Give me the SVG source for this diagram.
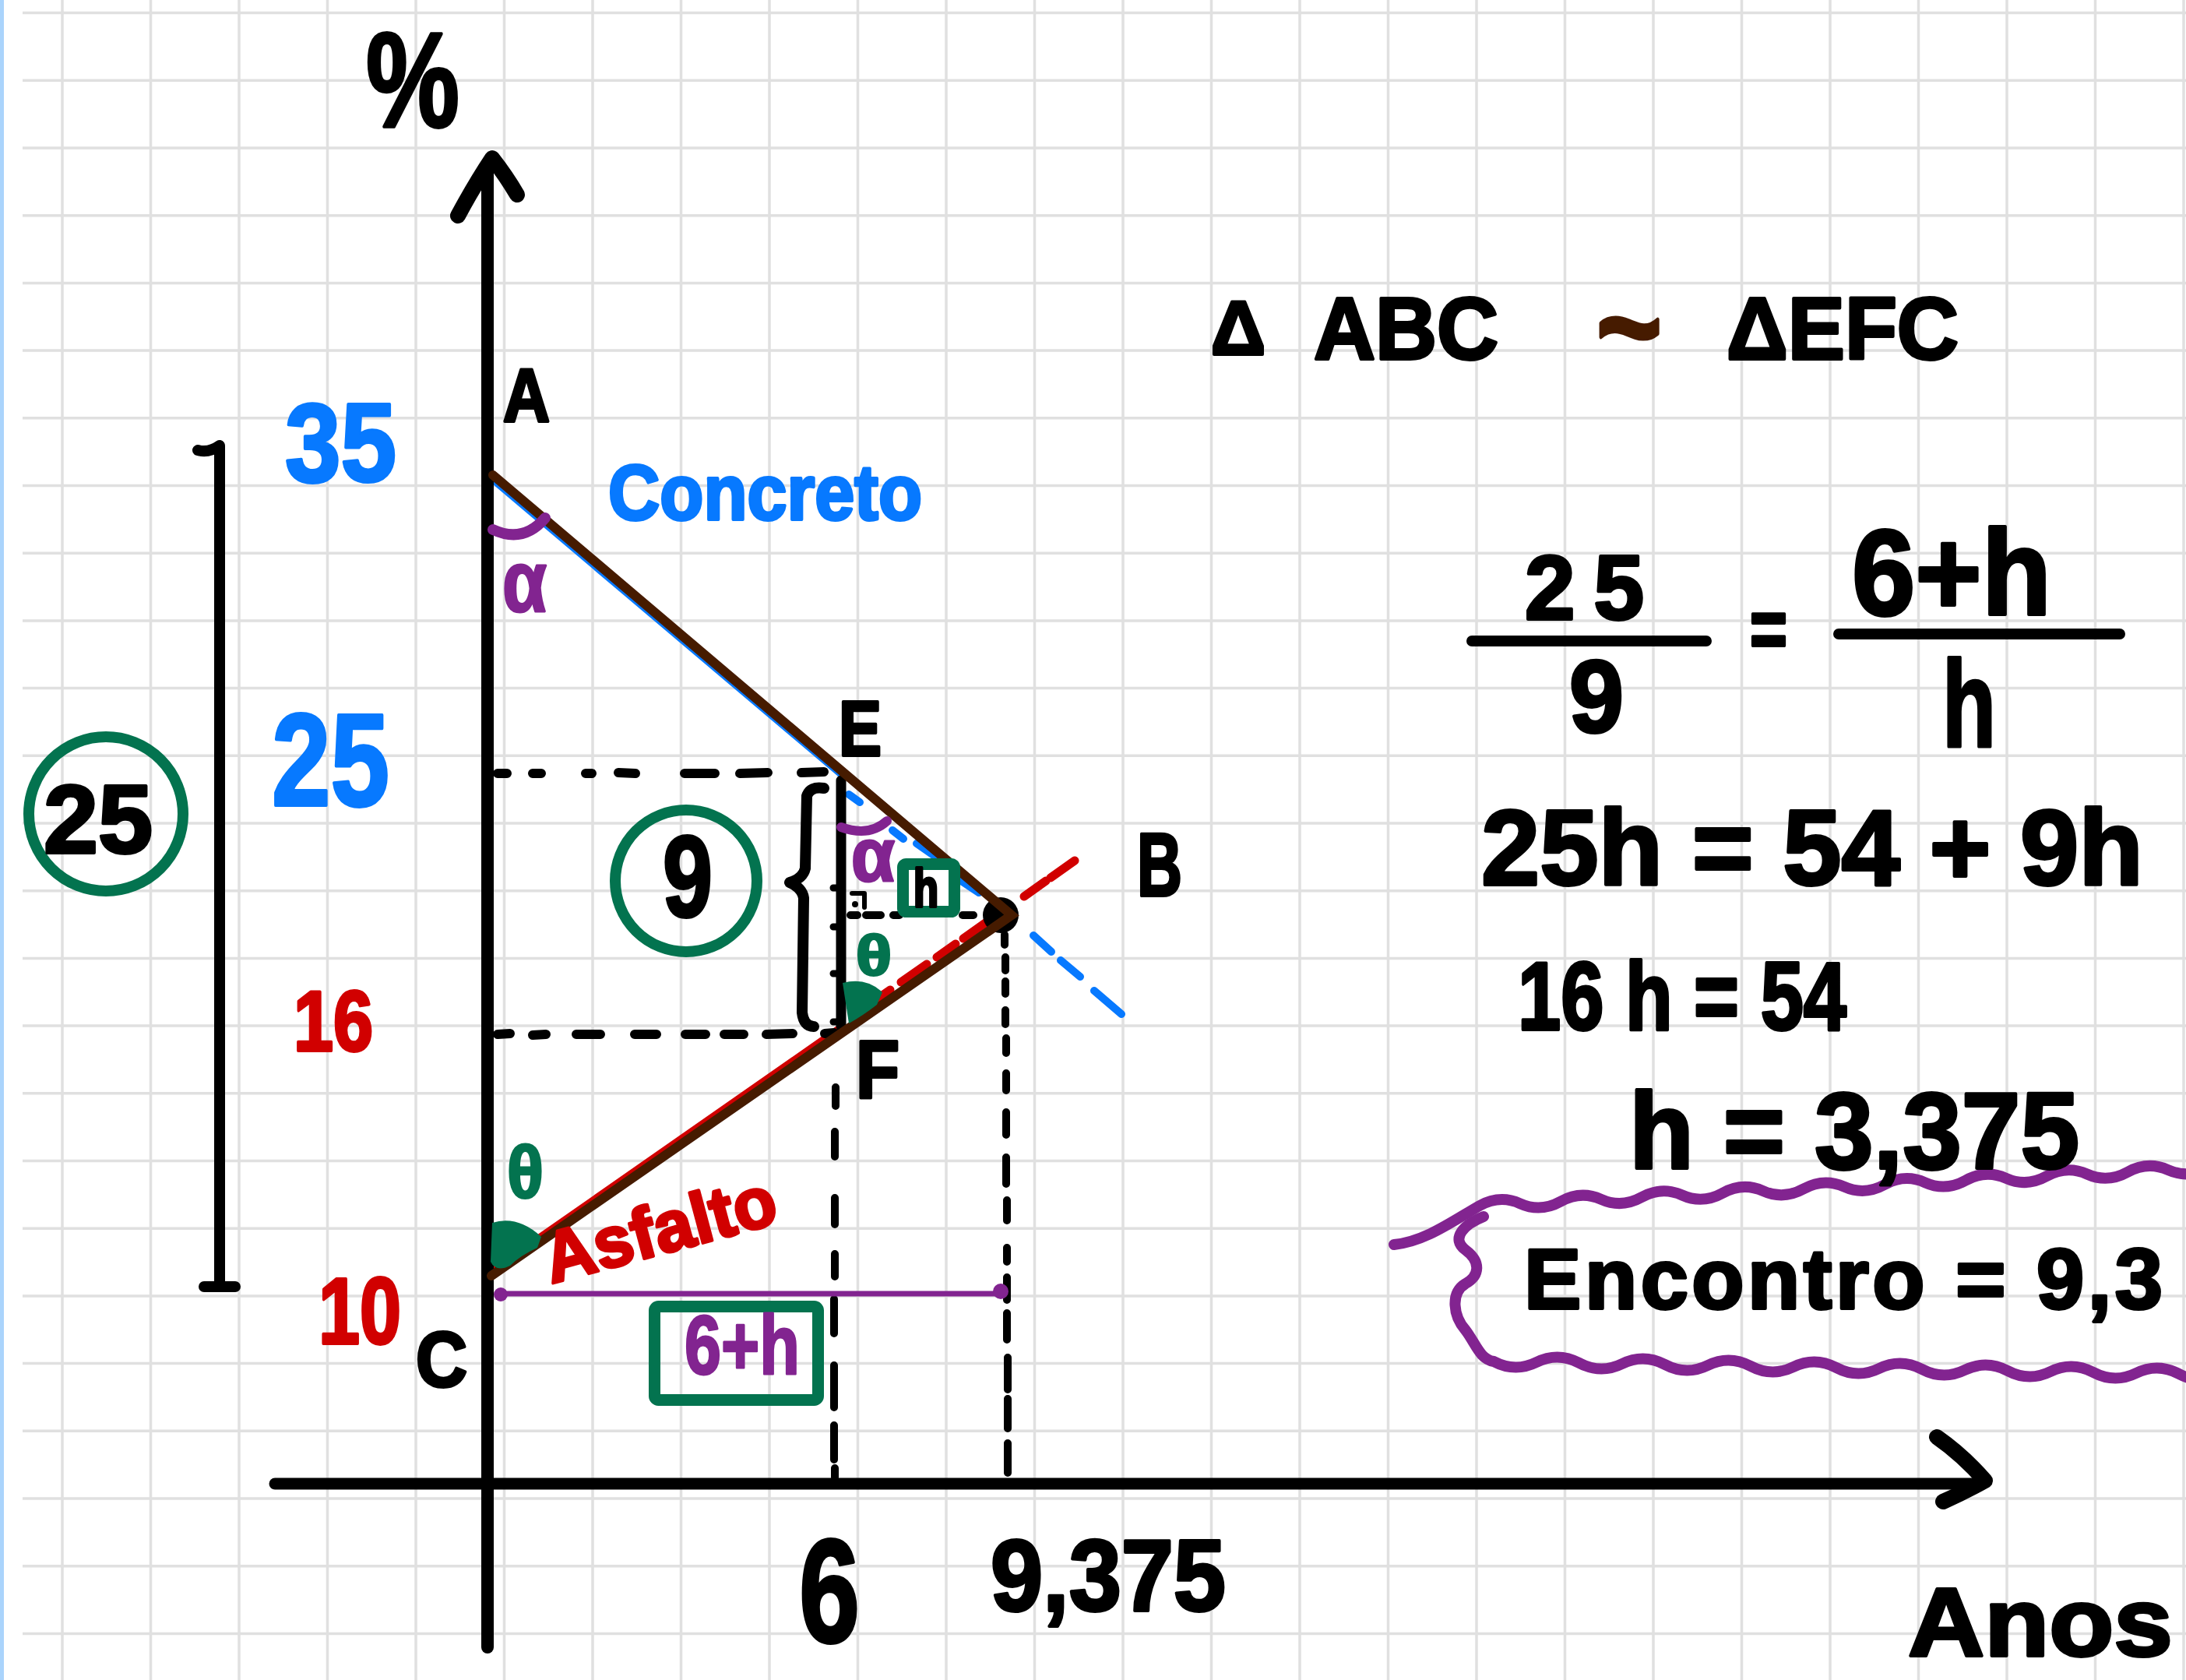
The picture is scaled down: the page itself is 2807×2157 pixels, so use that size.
<svg xmlns="http://www.w3.org/2000/svg" width="2807" height="2157" viewBox="0 0 2807 2157">
<style>
.t{font-family:"Liberation Sans",Arial,sans-serif;font-weight:bold;stroke-linejoin:round;stroke-linecap:round;paint-order:stroke}
.k{fill:#000;stroke:#000;stroke-width:4}
.bl{fill:#0779ff;stroke:#0779ff;stroke-width:4}
.rd{fill:#d10000;stroke:#d10000;stroke-width:4}
.pu{fill:#822490;stroke:#822490;stroke-width:3}
.gr{fill:#03734f;stroke:#03734f;stroke-width:3}
.br{fill:#461b00;stroke:#461b00;stroke-width:5}
.ln{fill:none;stroke-linecap:round;stroke-linejoin:round}
</style>
<rect width="2807" height="2157" fill="#ffffff"/>
<g id="grid" fill="none" stroke="#e0e0e0" stroke-width="3.5">
<path d="M80 0V2157M193.5 0V2157M307 0V2157M420.5 0V2157M534 0V2157M647.5 0V2157M761 0V2157M874.5 0V2157M988 0V2157M1101.5 0V2157M1215 0V2157M1328.5 0V2157M1442 0V2157M1555.5 0V2157M1669 0V2157M1782.5 0V2157M1896 0V2157M2009.5 0V2157M2123 0V2157M2236.5 0V2157M2350 0V2157M2463.5 0V2157M2577 0V2157M2690.5 0V2157M2804 0V2157"/>
<path d="M29 16.6H2807M29 103.3H2807M29 190H2807M29 276.7H2807M29 363.4H2807M29 450.1H2807M29 536.8H2807M29 623.5H2807M29 710.2H2807M29 796.9H2807M29 883.6H2807M29 970.3H2807M29 1057H2807M29 1143.7H2807M29 1230.4H2807M29 1317.1H2807M29 1403.8H2807M29 1490.5H2807M29 1577.2H2807M29 1663.9H2807M29 1750.6H2807M29 1837.3H2807M29 1924H2807M29 2010.7H2807M29 2097.4H2807"/>
</g>
<rect id="margin" x="0" y="0" width="5" height="2157" fill="#aad4fc"/>

<g id="connectors">
<path class="ln" stroke="#0779ff" stroke-width="12" d="M634 615L1082 994"/>
<path class="ln" stroke="#0779ff" stroke-width="10" d="M1090 1020L1104 1030M1146 1066L1160 1077M1177 1083L1200 1099M1233 1130L1257 1146M1327 1201L1350 1222M1362 1233L1387 1254M1405 1272L1440 1302"/>
<path class="ln" stroke="#d10000" stroke-width="12" d="M632 1633L1078 1322"/>
<path class="ln" stroke="#d10000" stroke-width="11" d="M1123 1285L1143 1271M1157 1261L1190 1238M1203 1229L1227 1212M1237 1205L1268 1183M1315 1151L1343 1131M1349 1127L1380 1105"/>
<path id="y-axis" class="ln" stroke="#000" stroke-width="16" d="M626 212V2115"/>
<path class="ln" stroke="#000" stroke-width="20" d="M588 277Q610 236 632 203Q650 226 664 250"/>
<path id="x-axis" class="ln" stroke="#000" stroke-width="15" d="M353 1905H2546"/>
<path class="ln" stroke="#000" stroke-width="20" d="M2487 1845Q2520 1868 2549 1901Q2524 1915 2495 1928"/>
<path class="ln" stroke="#000" stroke-width="12" d="M639 993L651 993M684 993L695 993M752 993L760 993M794 992L816 993M879 993L918 993M950 993L986 992M1029 992L1058 991"/>
<path class="ln" stroke="#000" stroke-width="12" d="M639 1328L655 1327M684 1329L701 1328M740 1328L771 1328M815 1328L843 1328M880 1328L906 1328M930 1328L955 1328M984 1328L1018 1327M1059 1327L1071 1326"/>
<path class="ln" stroke="#000" stroke-width="10" d="M1092 1175L1101 1175M1112 1175L1131 1175M1147 1175L1155 1175M1236 1175L1250 1175"/>
<path class="ln" stroke="#000" stroke-width="10" d="M1073 1396L1073 1420M1072 1453L1072 1485M1072 1538L1072 1572M1072 1610L1072 1639M1071 1668L1071 1712M1071 1753L1071 1807M1071 1830L1071 1874M1072 1885L1072 1897"/>
<path class="ln" stroke="#000" stroke-width="10" d="M1290 1200L1290 1213M1291 1229L1291 1246M1291 1260L1291 1276M1291 1297L1291 1315M1292 1333L1292 1352M1292 1378L1292 1400M1292 1428L1292 1457M1292 1486L1292 1520M1293 1541L1293 1567M1293 1602L1293 1620M1293 1640L1293 1669M1293 1686L1293 1720M1294 1743L1294 1784M1294 1796L1294 1834M1294 1853L1294 1891"/>
<path class="ln" stroke="#000" stroke-width="6" d="M1094 1147L1110 1147L1110 1165"/>
<circle cx="1098" cy="1161" r="4" fill="#000"/>
<path class="ln" stroke="#000" stroke-width="13" d="M1080 1002V1318"/>
<path class="ln" stroke="#000" stroke-width="9" d="M1076 1140h-6M1076 1190h-6M1076 1250h-6M1076 1312h-6"/>
<path class="ln" stroke="#000" stroke-width="14" d="M1058 1012Q1040 1009 1036 1022L1034 1115Q1031 1128 1014 1133Q1030 1140 1032 1153L1030 1300Q1032 1318 1045 1318"/>
<path class="ln" stroke="#000" stroke-width="14" d="M254 578Q268 582 282 572V1650M262 1652H302"/>
<path class="ln" stroke="#822490" stroke-width="7" d="M642 1661H1288"/>
<circle cx="643" cy="1662" r="9" fill="#822490"/>
<circle cx="1285" cy="1658" r="10" fill="#822490"/>
<circle cx="1285" cy="1175" r="23" fill="#000"/>
<path id="triangle" fill="none" stroke="#461b00" stroke-width="12" stroke-linecap="round" stroke-linejoin="miter" d="M633 610L1299 1175L631 1638"/>
<path class="ln" stroke="#822490" stroke-width="14" d="M633 680Q672 698 700 665"/>
<path class="ln" stroke="#822490" stroke-width="12" d="M1080 1062Q1116 1075 1139 1054"/>
<path fill="#03734f" d="M632 1570Q665 1560 695 1588L690 1602Q668 1612 655 1625Q637 1634 630 1620Z"/>
<path fill="#03734f" d="M1082 1262Q1112 1254 1133 1274L1126 1290Q1108 1304 1090 1314Z"/>
<path class="ln" stroke="#822490" stroke-width="14" d="M1790 1598C1830 1594 1865 1568 1900 1548Q1926 1533.6 1952 1545.3T2004 1542.6T2056 1539.9T2108 1537.2T2160 1534.5T2212 1531.8T2264 1529.1T2316 1526.4T2368 1523.7T2420 1521T2472 1518.3T2524 1515.6T2576 1512.9T2628 1510.2T2680 1507.5T2732 1504.8T2784 1502.1T2836 1499.4"/>
<path class="ln" stroke="#822490" stroke-width="14" d="M1905 1562C1880 1572 1862 1590 1882 1605C1902 1620 1900 1638 1882 1648C1862 1660 1866 1690 1882 1708C1895 1725 1900 1745 1918 1748Q1945.5 1762.5 1973 1749T2028 1750T2083 1751T2138 1752T2193 1753T2248 1754T2303 1755T2358 1756T2413 1757T2468 1758T2523 1759T2578 1760T2633 1761T2688 1762T2743 1763T2798 1764T2853 1765"/>
<path class="ln" stroke="#000" stroke-width="14" d="M1890 823H2191M2361 814H2722"/>
</g>

<g id="node-circle25"><circle cx="136" cy="1045" r="99" fill="none" stroke="#03734f" stroke-width="14"/><text class="t k" x="56" y="1095" font-size="124" textLength="140" lengthAdjust="spacingAndGlyphs">25</text></g>
<g id="node-circle9"><circle cx="881" cy="1131" r="91" fill="none" stroke="#03734f" stroke-width="14"/><text class="t k" x="851" y="1177" font-size="148" textLength="64" lengthAdjust="spacingAndGlyphs">9</text></g>
<g id="node-boxh"><rect x="1159.5" y="1109.5" width="66" height="61" rx="4" fill="#fff" stroke="#03734f" stroke-width="15"/><text class="t k" x="1173" y="1164" font-size="68" textLength="32" lengthAdjust="spacingAndGlyphs">h</text></g>
<g id="node-box6h"><rect x="840.5" y="1677.5" width="210" height="120" rx="5" fill="none" stroke="#03734f" stroke-width="15"/><text class="t pu" x="879" y="1764" font-size="108" textLength="148" lengthAdjust="spacingAndGlyphs">6+h</text></g>

<g id="labels">
<text class="t k" x="470" y="163" font-size="172" textLength="120" lengthAdjust="spacingAndGlyphs">%</text>
<text class="t k" x="646" y="541" font-size="96" textLength="60" lengthAdjust="spacingAndGlyphs">A</text>
<text class="t k" x="1077" y="970" font-size="100" textLength="55" lengthAdjust="spacingAndGlyphs">E</text>
<text class="t k" x="1460" y="1150" font-size="115" textLength="58" lengthAdjust="spacingAndGlyphs">B</text>
<text class="t k" x="1099" y="1410" font-size="106" textLength="56" lengthAdjust="spacingAndGlyphs">F</text>
<text class="t k" x="534" y="1780" font-size="100" textLength="66" lengthAdjust="spacingAndGlyphs">C</text>
<text class="t bl" x="366" y="618" font-size="142" textLength="143" lengthAdjust="spacingAndGlyphs">35</text>
<text class="t bl" x="349" y="1034" font-size="168" textLength="151" lengthAdjust="spacingAndGlyphs">25</text>
<text class="t rd" x="377" y="1349" font-size="110" textLength="102" lengthAdjust="spacingAndGlyphs">16</text>
<text class="t rd" x="409" y="1725" font-size="120" textLength="106" lengthAdjust="spacingAndGlyphs">10</text>
<text class="t bl" x="781" y="667" font-size="100" textLength="403" lengthAdjust="spacingAndGlyphs">Concreto</text>
<text class="t rd" x="708" y="1648" font-size="92" textLength="305" lengthAdjust="spacingAndGlyphs" transform="rotate(-15 708 1648)">Asfalto</text>
<text class="t pu" x="645" y="785" font-size="112" textLength="57" lengthAdjust="spacingAndGlyphs">α</text>
<text class="t pu" x="1093" y="1131" font-size="96" textLength="56" lengthAdjust="spacingAndGlyphs">α</text>
<text class="t gr" x="1099" y="1252" font-size="72" textLength="46" lengthAdjust="spacingAndGlyphs">θ</text>
<text class="t gr" x="651" y="1538" font-size="94" textLength="47" lengthAdjust="spacingAndGlyphs">θ</text>
<text class="t k" x="1026" y="2108" font-size="190" textLength="78" lengthAdjust="spacingAndGlyphs">6</text>
<text class="t k" x="1272" y="2068" font-size="130" textLength="302" lengthAdjust="spacingAndGlyphs">9,375</text>
<text class="t k" x="2450" y="2126" font-size="124" textLength="340" lengthAdjust="spacingAndGlyphs">Anos</text>
</g>

<g id="equations">
<text class="t k" x="1555" y="455" font-size="98" textLength="70" lengthAdjust="spacingAndGlyphs">Δ</text>
<text class="t k" x="1687" y="461" font-size="114" textLength="237" lengthAdjust="spacingAndGlyphs">ABC</text>
<text class="t br" x="2050" y="478" font-size="170" textLength="84" lengthAdjust="spacingAndGlyphs">~</text>
<text class="t k" x="2217" y="461" font-size="114" textLength="298" lengthAdjust="spacingAndGlyphs">ΔEFC</text>
<text class="t k" x="1958" y="795" font-size="116" textLength="153" lengthAdjust="spacing">25</text>
<text class="t k" x="2015" y="940" font-size="132" textLength="70" lengthAdjust="spacingAndGlyphs">9</text>
<text class="t k" x="2247" y="844" font-size="108" textLength="48" lengthAdjust="spacingAndGlyphs">=</text>
<text class="t k" x="2378" y="789" font-size="155" textLength="256" lengthAdjust="spacingAndGlyphs">6+h</text>
<text class="t k" x="2494" y="958" font-size="158" textLength="69" lengthAdjust="spacingAndGlyphs">h</text>
<text class="t k" x="1902" y="1136" font-size="138" textLength="850" lengthAdjust="spacingAndGlyphs">25h = 54 + 9h</text>
<text class="t k" x="1949" y="1322" font-size="125" textLength="422" lengthAdjust="spacingAndGlyphs">16 h = 54</text>
<text class="t k" x="2092" y="1500" font-size="140" textLength="578" lengthAdjust="spacingAndGlyphs">h = 3,375</text>
<text class="t k" x="1957" y="1680" font-size="110" textLength="820" lengthAdjust="spacing">Encontro = 9,3</text>
</g>
</svg>
